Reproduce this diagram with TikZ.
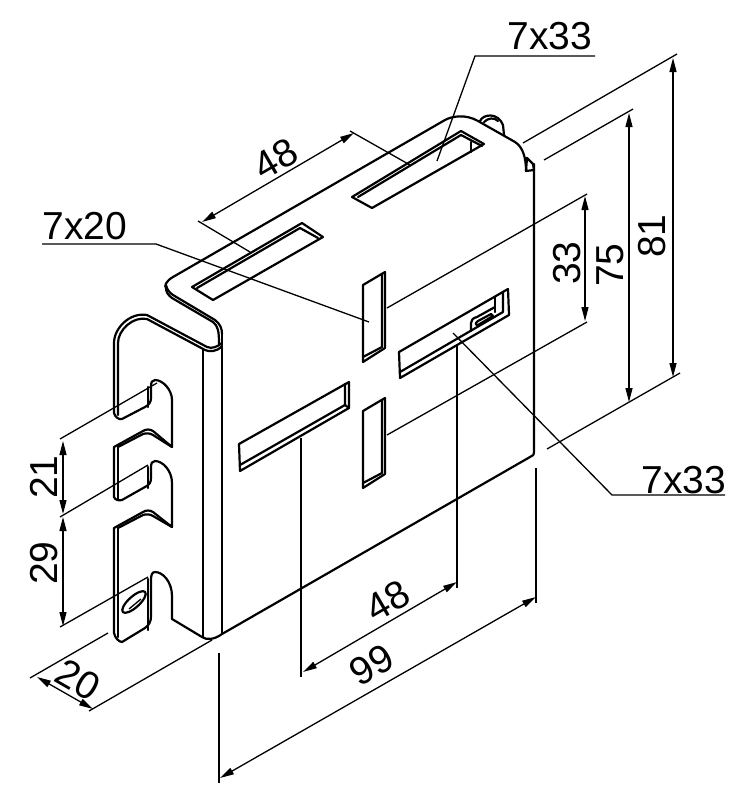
\documentclass[tikz,border=0pt]{standalone}
\usepackage{fontspec}
\setmainfont{Liberation Sans}
\usetikzlibrary{arrows.meta}
\tikzset{
  part/.style={line width=2.2pt, line join=round, line cap=round},
  thinline/.style={line width=1.3pt},
  dimline/.style={thinline, {Triangle[length=14pt,width=7pt]}-{Triangle[length=14pt,width=7pt]}},
  dimtext/.style={inner sep=0pt, font=\fontsize{39}{39}\selectfont}
}

\begin{document}
\begin{tikzpicture}[x=1pt, y=-1pt]
        \useasboundingbox (0,0) rectangle (746,800);

        \draw[part] (173,277) -- (445,120) .. controls (452,116) and (466,114) .. (478,121) -- (515,142) .. controls (523,147) and (526,158) .. (526,171);
        \draw[part] (173,277) .. controls (166,281) and (164,286) .. (166,288) .. controls (166,292) and (168,295) .. (172,298) -- (213,322) .. controls (218,326) and (219,331) .. (219,344);
        \draw[part] (166,285) .. controls (167,290) and (170,293) .. (173,295) -- (215,320) .. controls (220,324) and (222,328) .. (222,334);
        \draw[part] (527,158) -- (533,164) -- (534,170) -- (526,171) -- (527,158);
        \draw[part] (480,121) .. controls (483,114) and (498,112) .. (503,125) -- (504,135);
        \draw[part] (484,122) .. controls (488,118) and (494,117) .. (498,121);

        \draw[part] (534,164) -- (534,451) .. controls (534,455) and (533,456) .. (530,457) -- (222,634);
        \draw[part] (222,334) -- (222,634);
        \draw[part] (203,350) -- (203,637);

        \draw[part] (114,413) -- (114,343) .. controls (114,328) and (130,312) .. (147,315) -- (207,347) .. controls (212,349) and (217,347) .. (222,343);
        \draw[part] (118,415) -- (118,343) .. controls (118,330) and (133,316) .. (147,319) -- (205,350) .. controls (209,352) and (217,352) .. (222,346);
        \draw[part] (114,413) .. controls (115,417) and (119,420) .. (122,419) -- (145,407) .. controls (149,405) and (151,402) .. (151,398) -- (151,387) .. controls (151,382) and (152,380) .. (155,380) .. controls (163,380) and (172,390) .. (172,400) -- (172,447) -- (153,431) .. controls (150,429) and (146,429) .. (143,431) -- (114,447) -- (114,497) .. controls (115,500) and (119,501) .. (122,500) -- (145,487) .. controls (149,485) and (151,483) .. (151,478) -- (151,468) .. controls (151,463) and (152,461) .. (155,461) .. controls (163,461) and (172,471) .. (172,483) -- (172,527) -- (153,512) .. controls (150,510) and (146,510) .. (143,512) -- (114,528) -- (114,633) .. controls (115,638) and (119,642) .. (122,642) -- (145,628) .. controls (149,625) and (151,622) .. (151,616) -- (151,580) .. controls (151,575) and (152,572) .. (155,572) .. controls (163,572) and (172,582) .. (172,596) -- (172,619) -- (202,637) .. controls (206,640) and (214,640) .. (222,634);
        \draw[part] (118,447) -- (143,434) .. controls (146,433) and (150,433) .. (153,435) -- (172,447);
        \draw[part] (118,528) -- (143,515) .. controls (146,514) and (150,514) .. (153,516) -- (172,527);
        \draw[part] (118,447) -- (118,499);
        \draw[part] (118,528) -- (118,637);
        \draw[part] (148,387) -- (148,407);
        \draw[part] (148,467) -- (148,488);
        \draw[part] (148,579) -- (148,630);
        \draw[part, rotate around={42:(134,602)}] (134,602) ellipse (15 and 5.5);
        \draw[thinline] (129,609) -- (141,599);

        \draw[part] (192,287) -- (302,223) -- (323,237) -- (213,300) -- cycle;
        \draw[part] (197,288) -- (300,228) -- (318,238);
        \draw[part] (352,197) -- (461,131) -- (484,144) -- (372,208) -- cycle;
        \draw[part] (358,197) -- (461,135) -- (482,146);
        \draw[part] (471,142) -- (471,152);

        \draw[part] (363,285) -- (385,272) -- (385,348) -- (363,362) -- cycle;
        \draw[part] (382,274) -- (382,347) -- (363,357);
        \draw[part] (363,411) -- (385,398) -- (385,474) -- (363,488) -- cycle;
        \draw[part] (382,400) -- (382,473) -- (363,483);
        \draw[part] (239,444) -- (349,382) -- (349,408) -- (240,471) -- cycle;
        \draw[part] (240,465) -- (345,405) -- (345,384);
        \draw[part] (345,405) -- (349,408);
        \draw[part] (399,352) -- (508,289) -- (509,315) -- (400,378) -- cycle;
        \draw[part] (400,372) -- (503,312) -- (503,292);
        \draw[part] (495,297) -- (495,312);
        \draw[part] (471,331) -- (471,323) .. controls (471,320) and (473,318) .. (477,317) -- (495,307);
        \draw[part] (478,325) -- (493,316) -- (491,314) -- (478,321) .. controls (475,323) and (475,325) .. (478,325);

        \coordinate (e48a) at (198,221);
        \coordinate (e48b) at (250,252);
        \coordinate (e48c) at (350,131);
        \coordinate (e48d) at (410,165);
        \coordinate (d48a) at (202,222);
        \coordinate (d48b) at (354,133);
        \draw[thinline] (e48a) -- (e48b);
        \draw[thinline] (e48c) -- (e48d);
        \draw[dimline] (d48a) -- (d48b);

        \coordinate (e81a) at (523,143);
        \coordinate (e81b) at (677,54);
        \coordinate (e75a) at (544,160);
        \coordinate (e75b) at (633,109);
        \coordinate (e33a) at (387,308);
        \coordinate (e33b) at (587,194);
        \coordinate (e33c) at (387,435);
        \coordinate (e33d) at (587,322);
        \coordinate (eboa) at (547,449);
        \coordinate (ebob) at (680,373);
        \draw[thinline] (e81a) -- (e81b);
        \draw[thinline] (e75a) -- (e75b);
        \draw[thinline] (e33a) -- (e33b);
        \draw[thinline] (e33c) -- (e33d);
        \draw[thinline] (eboa) -- (ebob);
        \coordinate (d81a) at (673,58);
        \coordinate (d81b) at (673,377);
        \coordinate (d75a) at (629,113);
        \coordinate (d75b) at (629,402);
        \coordinate (d33a) at (585,196);
        \coordinate (d33b) at (585,321);
        \draw[dimline] (d81a) -- (d81b);
        \draw[dimline] (d75a) -- (d75b);
        \draw[dimline] (d33a) -- (d33b);

        \coordinate (e99a) at (219,653);
        \coordinate (e99b) at (219,783);
        \coordinate (e99c) at (536,468);
        \coordinate (e99d) at (536,603);
        \coordinate (d99a) at (220,778);
        \coordinate (d99b) at (536,597);
        \draw[thinline] (e99a) -- (e99b);
        \draw[thinline] (e99c) -- (e99d);
        \draw[dimline] (d99a) -- (d99b);

        \coordinate (f48a) at (301,438);
        \coordinate (f48b) at (301,677);
        \coordinate (f48c) at (457,345);
        \coordinate (f48d) at (457,588);
        \coordinate (g48a) at (303,672);
        \coordinate (g48b) at (457,582);
        \draw[thinline] (f48a) -- (f48b);
        \draw[thinline] (f48c) -- (f48d);
        \draw[dimline] (g48a) -- (g48b);

        \coordinate (e20a) at (108,633);
        \coordinate (e20b) at (30,678);
        \coordinate (e20c) at (89,711);
        \coordinate (e20d) at (212,640);
        \coordinate (d20a) at (37,677);
        \coordinate (d20b) at (93,709);
        \draw[thinline] (e20a) -- (e20b);
        \draw[thinline] (e20c) -- (e20d);
        \draw[dimline] (d20a) -- (d20b);

        \coordinate (e21a) at (60,439);
        \coordinate (e21b) at (157,383);
        \coordinate (e21c) at (60,517);
        \coordinate (e21d) at (148,465);
        \coordinate (e29a) at (60,627);
        \coordinate (e29b) at (148,577);
        \coordinate (d21a) at (63,441);
        \coordinate (d21b) at (63,514);
        \coordinate (d29a) at (63,517);
        \coordinate (d29b) at (63,626);
        \draw[thinline] (e21a) -- (e21b);
        \draw[thinline] (e21c) -- (e21d);
        \draw[thinline] (e29a) -- (e29b);
        \draw[dimline] (d21a) -- (d21b);
        \draw[dimline] (d29a) -- (d29b);

        \coordinate (l33a) at (595,56);
        \coordinate (l33b) at (475,56);
        \coordinate (l33c) at (437,161);
        \coordinate (l20a) at (42,244);
        \coordinate (l20b) at (156,244);
        \coordinate (l20c) at (369,322);
        \coordinate (m33a) at (725,495);
        \coordinate (m33b) at (612,495);
        \coordinate (m33c) at (453,333);
        \draw[thinline] (l33a) -- (l33b) -- (l33c);
        \draw[thinline] (l20a) -- (l20b) -- (l20c);
        \draw[thinline] (m33a) -- (m33b) -- (m33c);

        \node[dimtext](t1) at (550,36){7x33};
        \node[dimtext](t2) at (85,226){7x20};
        \node[dimtext](t3) at (684,480){7x33};
        \node[dimtext, rotate=30](t4) at (276,159){48};
        \node[dimtext, rotate=90](t5) at (567,263){33};
        \node[dimtext, rotate=90](t6) at (610,265){75};
        \node[dimtext, rotate=90](t7) at (652,236){81};
        \node[dimtext, rotate=30](t8) at (372,665){99};
        \node[dimtext, rotate=30](t9) at (388,601){48};
        \node[dimtext, rotate=-30](t10) at (78,680){20};
        \node[dimtext, rotate=90](t11) at (44,477){21};
        \node[dimtext, rotate=90](t12) at (44,563){29};
\end{tikzpicture}
\end{document}
